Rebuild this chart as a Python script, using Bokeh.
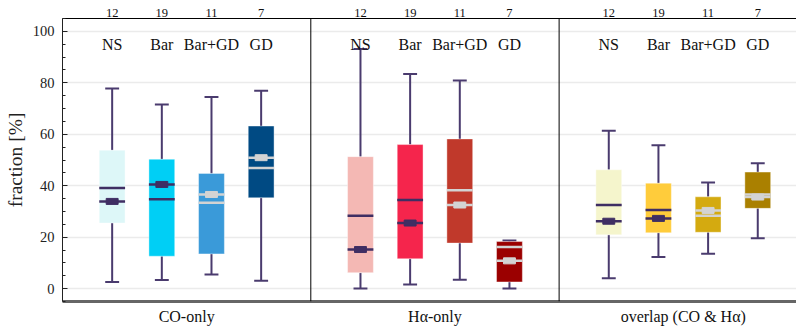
from bokeh.plotting import figure
from bokeh.models import Span, LinearAxis, FixedTicker, SingleIntervalTicker, ColumnDataSource, Range1d
from bokeh.core.properties import value
from bokeh.embed import file_html
from bokeh.resources import INLINE

# ---------------- data ----------------
groups = ["CO-only", "Hα-only", "overlap (CO & Hα)"]
classes = ["NS", "Bar", "Bar+GD", "GD"]
counts = [12, 19, 11, 7]

# CO-only
co_wlo = [2.6, 3.4, 5.5, 3.1]
co_q1 = [25.5, 12.6, 13.5, 35.3]
co_med = [39.1, 34.7, 33.4, 46.9]
co_mean = [33.9, 40.5, 36.6, 50.9]
co_q3 = [53.8, 50.3, 44.8, 63.2]
co_whi = [77.8, 71.6, 74.5, 76.9]

# Halpha-only
ha_wlo = [0.1, 1.6, 3.5, 0.1]
ha_q1 = [6.2, 11.6, 17.7, 2.6]
ha_med = [28.3, 34.5, 38.2, 16.2]
ha_mean = [15.2, 25.5, 32.5, 10.8]
ha_q3 = [51.3, 56.0, 58.2, 18.3]
ha_whi = [93.1, 83.4, 80.9, 18.7]

# overlap
ov_wlo = [4.0, 12.3, 13.6, 19.6]
ov_q1 = [20.9, 21.7, 21.9, 31.2]
ov_med = [32.5, 30.6, 28.3, 36.6]
ov_mean = [26.2, 27.3, 30.4, 35.6]
ov_q3 = [46.2, 41.0, 35.7, 45.3]
ov_whi = [61.4, 55.7, 41.3, 48.7]

box_colors = ["#ddf7f8", "#00cff5", "#3a9ad9", "#004a83",
              "#f4b8b4", "#f5254c", "#c0392b", "#9b0000",
              "#f5f5cc", "#ffcc3b", "#d4aa10", "#aa8000"]

DARK = "#3f2e63"
LIGHT = "#d3d3d3"
WHISK = "#4a3b6e"
FONT = "Liberation Serif"

# ---------------- assemble ----------------
wlo = co_wlo + ha_wlo + ov_wlo
q1 = co_q1 + ha_q1 + ov_q1
med = co_med + ha_med + ov_med
mean = co_mean + ha_mean + ov_mean
q3 = co_q3 + ha_q3 + ov_q3
whi = co_whi + ha_whi + ov_whi

xs, labs, lcol, ns = [], [], [], []
for g in range(len(groups)):
    for c in range(len(classes)):
        xs.append(g * 5 + c + 1)
        labs.append(classes[c])
        lcol.append(DARK if c < 2 else LIGHT)
        ns.append(str(counts[c]))

BW = 0.52
src = ColumnDataSource(dict(
    x=xs, wlo=wlo, q1=q1, med=med, mean=mean, q3=q3, whi=whi,
    fill=box_colors, lcol=lcol, lab=labs,
    x0=[x - BW / 2 for x in xs], x1=[x + BW / 2 for x in xs],
    c0=[x - 0.14 for x in xs], c1=[x + 0.14 for x in xs],
    ylab=[95.0] * len(xs),
))

p = figure(width=796, height=330, output_backend="svg", toolbar_location=None,
           x_range=Range1d(0, 14.78), y_range=Range1d(-5, 105),
           x_axis_location=None,
           min_border_left=62, min_border_right=0, min_border_top=18, min_border_bottom=29)
p.outline_line_color = None
p.background_fill_color = "white"
p.border_fill_color = "white"
p.xgrid.grid_line_color = None

ya = p.yaxis[0]
ya.ticker = SingleIntervalTicker(interval=20, num_minor_ticks=4)
ya.axis_label = "fraction [%]"
ya.axis_label_text_font = FONT
ya.axis_label_text_font_size = "19.5px"
ya.axis_label_text_font_style = "normal"
ya.axis_label_text_color = "#222222"
ya.axis_label_standoff = 4
ya.major_label_text_font = FONT
ya.major_label_text_font_size = "14.5px"
ya.major_label_text_color = "#222222"
ya.major_label_standoff = 8
ya.major_tick_in = 5
ya.major_tick_out = 0
ya.minor_tick_in = 3
ya.minor_tick_out = 0
ya.axis_line_color = "#222222"
ya.major_tick_line_color = "#222222"
ya.minor_tick_line_color = "#222222"

p.ygrid.grid_line_color = "#ebebeb"
p.ygrid.grid_line_width = 1.5

# top axis: sample counts
top = LinearAxis(ticker=FixedTicker(ticks=[float(x) for x in xs]),
                 major_label_overrides={float(x): n for x, n in zip(xs, ns)})
top.major_label_text_font = FONT
top.major_label_text_font_size = "12.5px"
top.major_label_text_color = "#111111"
top.major_label_standoff = 2
top.major_tick_in = 0
top.major_tick_out = 0
top.minor_tick_in = 0
top.minor_tick_out = 0
top.axis_line_color = "black"
top.axis_line_width = 1.2
p.add_layout(top, "above")

# bottom axis: group names
gx = [g * 5 + 2.5 for g in range(len(groups))]
bot = LinearAxis(ticker=FixedTicker(ticks=gx),
                 major_label_overrides={x: name for x, name in zip(gx, groups)})
bot.major_label_text_font = FONT
bot.major_label_text_font_size = "16px"
bot.major_label_text_color = "#111111"
bot.major_label_standoff = 6
bot.major_tick_in = 0
bot.major_tick_out = 0
bot.minor_tick_in = 0
bot.minor_tick_out = 0
bot.axis_line_color = "#666666"
bot.axis_line_width = 3
p.add_layout(bot, "below")

# whiskers
p.segment(x0="x", y0="q3", x1="x", y1="whi", source=src, line_color=WHISK, line_width=2)
p.segment(x0="x", y0="q1", x1="x", y1="wlo", source=src, line_color=WHISK, line_width=2)
p.segment(x0="c0", y0="whi", x1="c1", y1="whi", source=src, line_color=WHISK, line_width=2)
p.segment(x0="c0", y0="wlo", x1="c1", y1="wlo", source=src, line_color=WHISK, line_width=2)

# boxes
p.vbar(x="x", width=BW, bottom="q1", top="q3", source=src, fill_color="fill",
       line_color="white", line_alpha=0.4, line_width=1)

# median lines
p.segment(x0="x0", y0="med", x1="x1", y1="med", source=src, line_color="lcol", line_width=2.5)
# mean lines + markers
p.segment(x0="x0", y0="mean", x1="x1", y1="mean", source=src, line_color="lcol", line_width=2.5)
p.rect(x="x", y="mean", width=0.24, height=6, height_units="screen", source=src,
       fill_color="lcol", line_color="lcol", line_width=1)

# class labels
p.text(x="x", y="ylab", text="lab", source=src, text_align="center", text_baseline="alphabetic",
       text_font=value(FONT), text_font_size="16px", text_color="#111111")

# separators
for g in range(1, len(groups)):
    p.add_layout(Span(location=g * 5, dimension="height", line_color="black", line_width=1))

open("out.html", "w").write(file_html(p, INLINE))
